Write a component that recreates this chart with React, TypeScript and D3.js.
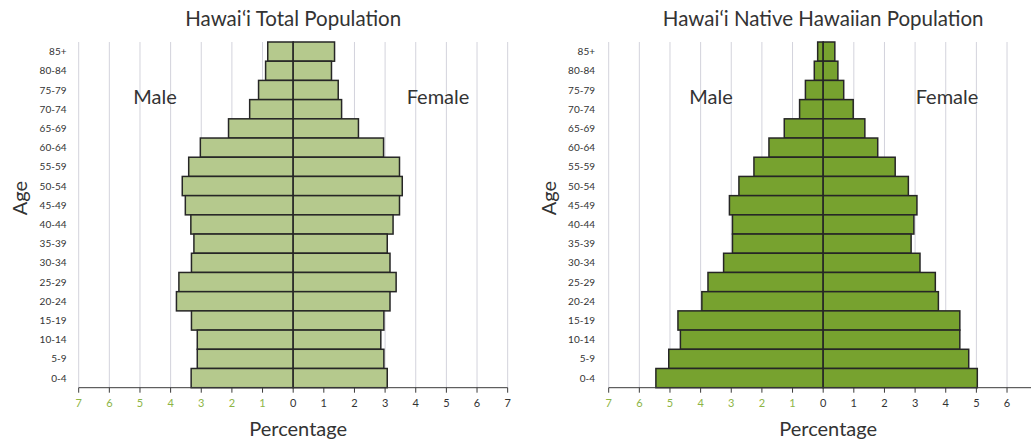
import React from 'react';
import * as d3 from 'd3';

const AGE_GROUPS = [
  '85+', '80-84', '75-79', '70-74', '65-69', '60-64', '55-59', '50-54', '45-49',
  '40-44', '35-39', '30-34', '25-29', '20-24', '15-19', '10-14', '5-9', '0-4',
];

// Hawai'i total population (%), top (85+) to bottom (0-4)
const TOTAL_MALE = [0.83, 0.9, 1.13, 1.42, 2.11, 3.03, 3.41, 3.62, 3.52, 3.34, 3.24, 3.32, 3.73, 3.81, 3.32, 3.13, 3.13, 3.33];
const TOTAL_FEMALE = [1.35, 1.25, 1.47, 1.58, 2.13, 2.95, 3.47, 3.56, 3.47, 3.26, 3.07, 3.16, 3.36, 3.16, 2.96, 2.86, 2.96, 3.07];

// Native Hawaiian population (%)
const NATIVE_MALE = [0.18, 0.29, 0.58, 0.77, 1.27, 1.77, 2.26, 2.75, 3.06, 2.96, 2.96, 3.25, 3.76, 3.96, 4.74, 4.66, 5.04, 5.46];
const NATIVE_FEMALE = [0.38, 0.48, 0.67, 0.98, 1.36, 1.78, 2.35, 2.78, 3.06, 2.96, 2.87, 3.16, 3.66, 3.76, 4.46, 4.46, 4.75, 5.03];

const X_TICKS = [-7, -6, -5, -4, -3, -2, -1, 0, 1, 2, 3, 4, 5, 6, 7];

const W = 1031;
const H = 442;
const FONT = 'Lato, "Open Sans", sans-serif';
const TEXT = '#333333';
const NEG_TICK = '#8db546';

interface PyramidProps {
  title: string;
  male: number[];
  female: number[];
  fill: string;
  x0: number; // pixel of -7
  labelX: number;
  ageTitleX: number;
  maleX: number;
  femaleX: number;
}

const Pyramid: React.FC<PyramidProps> = ({ title, male, female, fill, x0, labelX, ageTitleX, maleX, femaleX }) => {
  const unit = 30.64;
  const x = d3.scaleLinear().domain([-7, 7]).range([x0, x0 + 14 * unit]);
  const y = d3.scaleBand<string>().domain(AGE_GROUPS).range([42, 387.7]).padding(0);
  const zero = x(0);
  const axisY = 387.7;
  // the right chart runs past the page edge, so its last tick is not shown
  const ticks = X_TICKS.filter((t) => x(t) < W - 4);

  return (
    <g fontFamily={FONT}>
      <text x={zero} y={26} textAnchor="middle" fontSize={20.5} fill={TEXT}>{title}</text>
      {ticks.map((t) => (
        <line key={'g' + t} x1={x(t)} x2={x(t)} y1={42} y2={axisY} stroke="#d3d3dc" strokeWidth={1} />
      ))}
      {AGE_GROUPS.map((a, i) => (
        <g key={a}>
          <rect x={x(-male[i])} y={y(a)} width={zero - x(-male[i])} height={y.bandwidth()}
            fill={fill} stroke="#262626" strokeWidth={1.5} />
          <rect x={zero} y={y(a)} width={x(female[i]) - zero} height={y.bandwidth()}
            fill={fill} stroke="#262626" strokeWidth={1.5} />
          <text x={labelX} y={(y(a) || 0) + y.bandwidth() / 2 + 3.5} textAnchor="end" fontSize={10} fill={TEXT}>{a}</text>
        </g>
      ))}
      <line x1={x(-7)} x2={Math.min(x(7), W)} y1={axisY} y2={axisY} stroke="#3a3a3a" strokeWidth={1} />
      {ticks.map((t) => (
        <g key={'t' + t}>
          <line x1={x(t)} x2={x(t)} y1={axisY} y2={axisY + 5} stroke="#3a3a3a" strokeWidth={1} />
          <text x={x(t)} y={406.5} textAnchor="middle" fontSize={11} fill={t < 0 ? NEG_TICK : TEXT}>{Math.abs(t)}</text>
        </g>
      ))}
      <text x={zero + 5} y={436} textAnchor="middle" fontSize={20} fill={TEXT}>Percentage</text>
      <text transform={`translate(${ageTitleX},198) rotate(-90)`} textAnchor="middle" fontSize={20} fill={TEXT}>Age</text>
      <text x={maleX} y={104} textAnchor="middle" fontSize={20} fill={TEXT}>Male</text>
      <text x={femaleX} y={104} textAnchor="middle" fontSize={20} fill={TEXT}>Female</text>
    </g>
  );
};

export default function App() {
  return (
    <svg width={W} height={H} style={{ position: 'absolute', left: 0, top: 0, background: '#fff' }}>
      <rect width={W} height={H} fill="#fff" />
      <Pyramid title="Hawaiʻi Total Population" male={TOTAL_MALE} female={TOTAL_FEMALE} fill="#b5c98d"
        x0={78.7} labelX={66.5} ageTitleX={27} maleX={155} femaleX={438} />
      <Pyramid title="Hawaiʻi Native Hawaiian Population" male={NATIVE_MALE} female={NATIVE_FEMALE} fill="#77a22f"
        x0={608.7} labelX={595} ageTitleX={556} maleX={711} femaleX={947} />
    </svg>
  );
}
